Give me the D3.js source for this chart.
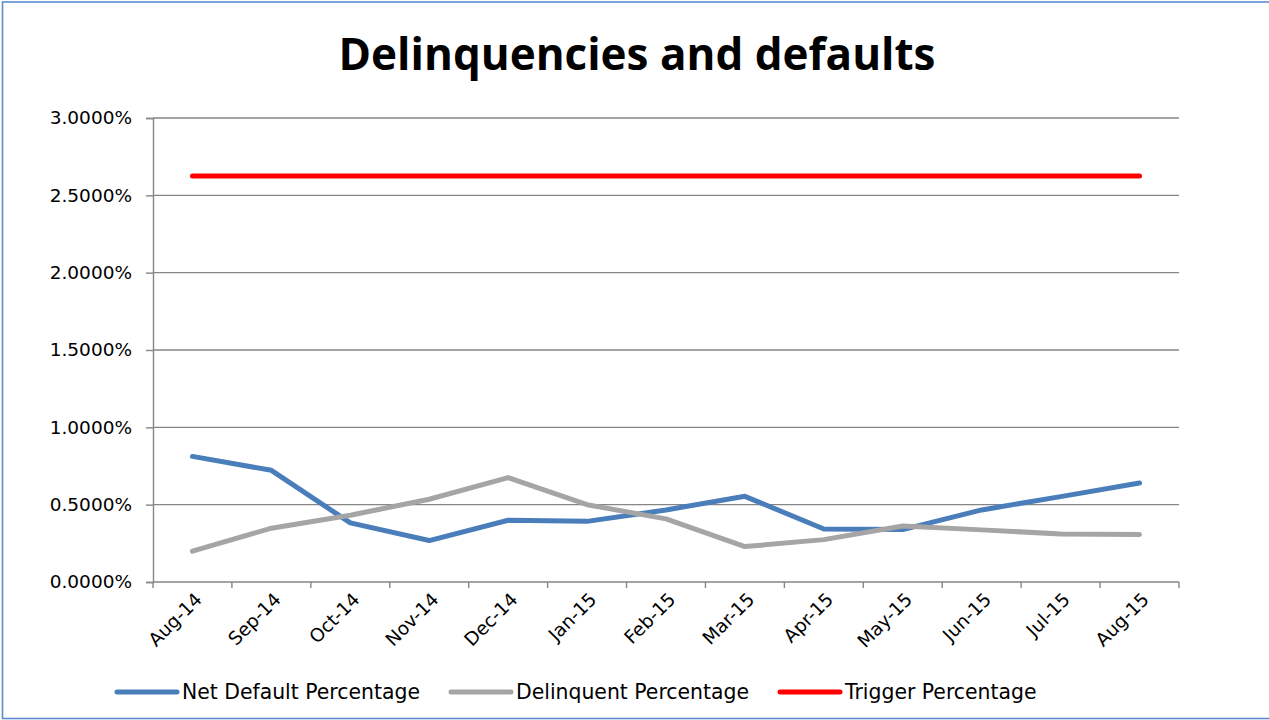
<!DOCTYPE html>
<html>
<head>
<meta charset="utf-8">
<script src="https://cdn.jsdelivr.net/npm/d3@7"></script>
<style>
  body { margin: 0; background: #fff; }
  svg { display: block; }
</style>
</head>
<body>
<div id="chart"></div>
<script>
// Delinquencies and defaults - line chart

const months = ["Aug-14", "Sep-14", "Oct-14", "Nov-14", "Dec-14", "Jan-15", "Feb-15",
                "Mar-15", "Apr-15", "May-15", "Jun-15", "Jul-15", "Aug-15"];

const netDefault = [0.00812, 0.00722, 0.00382, 0.00268, 0.00399, 0.00392, 0.00466,
                    0.00554, 0.00343, 0.00339, 0.00466, 0.00552, 0.00640];

const delinquent = [0.00199, 0.00348, 0.00432, 0.00535, 0.00675, 0.00500, 0.00408,
                    0.00229, 0.00274, 0.00362, 0.00337, 0.00311, 0.00307];

const trigger = [0.02625, 0.02625, 0.02625, 0.02625, 0.02625, 0.02625, 0.02625,
                 0.02625, 0.02625, 0.02625, 0.02625, 0.02625, 0.02625];

const yTicks = [0, 0.005, 0.01, 0.015, 0.02, 0.025, 0.03];

const seriesNames = ["Net Default Percentage", "Delinquent Percentage", "Trigger Percentage"];
const seriesColors = ["#4a7ebb", "#a5a5a5", "#ff0000"];

let width = 1269,
    height = 720,
    plotLeft = 153,
    plotRight = 1179,
    plotTop = 118,
    plotBottom = 582,
    labelFont = "'DejaVu Sans', sans-serif";

let svg = d3.select("#chart").append("svg")
    .attr("width", width)
    .attr("height", height);

// chart border
svg.append("rect")
    .attr("x", 2.5)
    .attr("y", 2)
    .attr("width", width + 10)
    .attr("height", 716.5)
    .attr("fill", "white")
    .attr("stroke", "#5b8bd0")
    .attr("stroke-width", 1.6);

// Scales
// ---------------------------------------------------------

let x = d3.scaleBand()
    .domain(months)
    .range([plotLeft, plotRight]);

let y = d3.scaleLinear()
    .domain([0, 0.03])
    .range([plotBottom, plotTop]);

// Title
// ---------------------------------------------------------

svg.append("text")
    .attr("x", 637)
    .attr("y", 70)
    .attr("text-anchor", "middle")
    .attr("font-family", "'Open Sans', sans-serif")
    .attr("font-weight", "bold")
    .attr("font-size", 44)
    .attr("fill", "#000")
    .text("Delinquencies and defaults");

// Grid and axes
// ---------------------------------------------------------

svg.append("g")
    .attr("class", "grid")
    .selectAll("line")
    .data(yTicks.slice(1))
    .enter()
    .append("line")
        .attr("x1", plotLeft)
        .attr("x2", plotRight)
        .attr("y1", d => y(d))
        .attr("y2", d => y(d))
        .attr("stroke", "#868686")
        .attr("stroke-width", 1.4);

let yAxis = svg.append("g")
    .attr("transform", `translate(${plotLeft},0)`)
    .call(d3.axisLeft(y)
        .tickValues(yTicks)
        .tickFormat(d3.format(".4%"))
        .tickSize(7)
        .tickPadding(14));

yAxis.select(".domain").attr("stroke", "#868686").attr("stroke-width", 1.4);
yAxis.selectAll(".tick line").attr("stroke", "#868686").attr("stroke-width", 1.4);
yAxis.selectAll(".tick text")
    .attr("font-family", labelFont)
    .attr("font-size", 18.5)
    .attr("fill", "#000");

// x axis: tick marks between categories
let xAxisG = svg.append("g");

xAxisG.append("line")
    .attr("x1", plotLeft)
    .attr("x2", plotRight)
    .attr("y1", plotBottom)
    .attr("y2", plotBottom)
    .attr("stroke", "#868686")
    .attr("stroke-width", 1.4);

xAxisG.selectAll(".xtick")
    .data(months.concat(["end"]))
    .enter()
    .append("line")
        .attr("class", "xtick")
        .attr("x1", (d, i) => i < months.length ? x(d) : plotRight)
        .attr("x2", (d, i) => i < months.length ? x(d) : plotRight)
        .attr("y1", plotBottom)
        .attr("y2", plotBottom + 6)
        .attr("stroke", "#868686")
        .attr("stroke-width", 1.4);

xAxisG.selectAll(".xlabel")
    .data(months)
    .enter()
    .append("text")
        .attr("class", "xlabel")
        .attr("transform", d => `translate(${x(d) + x.bandwidth() / 2 + 6},${plotBottom + 14}) rotate(-45)`)
        .attr("text-anchor", "end")
        .attr("dy", "0.35em")
        .attr("font-family", labelFont)
        .attr("font-size", 18.5)
        .attr("fill", "#000")
        .text(d => d);

// Lines
// ---------------------------------------------------------

let lineGen = d3.line()
    .x((d, i) => x(months[i]) + x.bandwidth() / 2)
    .y(d => y(d));

[netDefault, delinquent, trigger].forEach((series, k) => {
    svg.append("path")
        .datum(series)
        .attr("d", lineGen)
        .attr("fill", "none")
        .attr("stroke", seriesColors[k])
        .attr("stroke-width", 5)
        .attr("stroke-linecap", "round")
        .attr("stroke-linejoin", "round");
});

// Legend
// ---------------------------------------------------------

let legend = svg.append("g").attr("class", "legend");
let lx = 117,
    ly = 692;

seriesNames.forEach((name, k) => {
    legend.append("line")
        .attr("x1", lx)
        .attr("x2", lx + 60)
        .attr("y1", ly)
        .attr("y2", ly)
        .attr("stroke", seriesColors[k])
        .attr("stroke-width", 5)
        .attr("stroke-linecap", "round");

    let t = legend.append("text")
        .attr("x", lx + 65)
        .attr("y", ly)
        .attr("dy", "0.35em")
        .attr("font-family", labelFont)
        .attr("font-size", 20.4)
        .attr("fill", "#000")
        .text(name);

    lx += 65 + t.node().getComputedTextLength() + 31;
});
</script>
</body>
</html>
